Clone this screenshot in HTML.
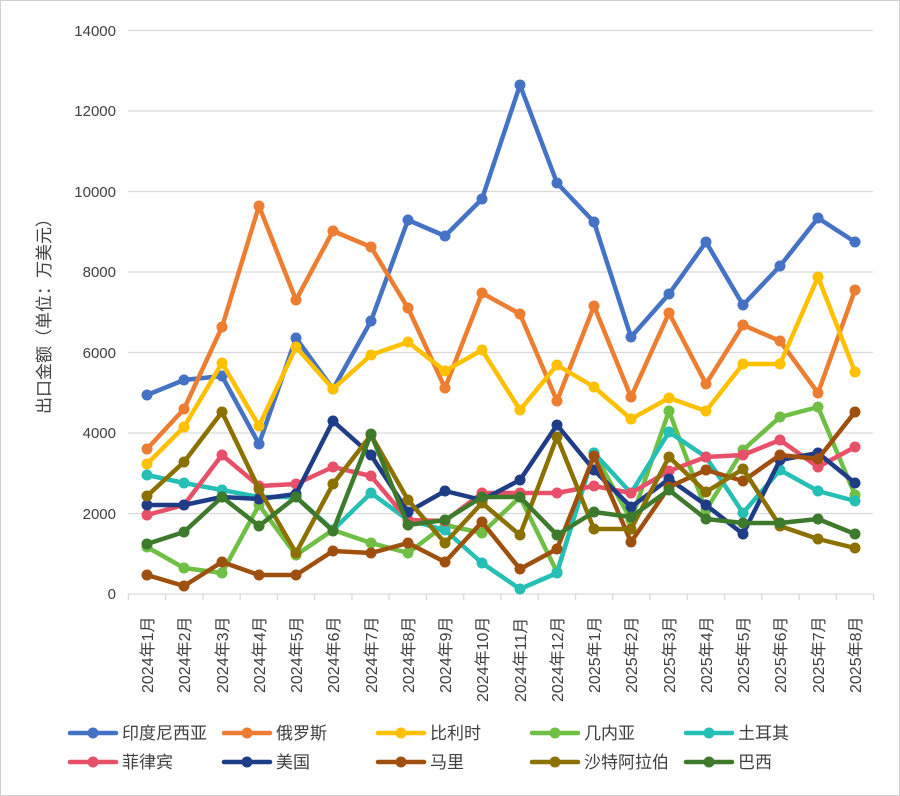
<!DOCTYPE html>
<html><head><meta charset="utf-8"><style>
body{margin:0;background:#fff}
svg{display:block;font-family:"Liberation Sans","Noto Sans CJK SC",sans-serif}
</style></head><body>
<svg id="s" width="900" height="796" viewBox="0 0 900 796">
<rect x="0.5" y="0.5" width="899" height="795" fill="#fff" stroke="#d0d0d0"/>
<g stroke="#d9d9d9" stroke-width="1.3">
<line x1="128" x2="873" y1="30.5" y2="30.5"/><line x1="128" x2="873" y1="111" y2="111"/>
<line x1="128" x2="873" y1="191.5" y2="191.5"/><line x1="128" x2="873" y1="272" y2="272"/>
<line x1="128" x2="873" y1="352.5" y2="352.5"/><line x1="128" x2="873" y1="433" y2="433"/>
<line x1="128" x2="873" y1="513.5" y2="513.5"/><line x1="128" x2="873" y1="594" y2="594"/>
</g>
<g fill="#404040" font-size="15" text-anchor="end">
<text x="116" y="36">14000</text><text x="116" y="116">12000</text><text x="116" y="197">10000</text>
<text x="116" y="277">8000</text><text x="116" y="358">6000</text><text x="116" y="438">4000</text>
<text x="116" y="519">2000</text><text x="116" y="599">0</text>
</g>
<text transform="translate(50,312) rotate(-90)" text-anchor="middle" font-size="17" fill="#404040">出口金额（单位：万美元）</text>
<g id="ticks" stroke="#d9d9d9" stroke-width="1.3"></g>
<g id="xl" fill="#404040" font-size="16">
<text transform="translate(153,693) rotate(-90)">2024年1月</text>
<text transform="translate(190,693) rotate(-90)">2024年2月</text>
<text transform="translate(228,693) rotate(-90)">2024年3月</text>
<text transform="translate(265,693) rotate(-90)">2024年4月</text>
<text transform="translate(302,693) rotate(-90)">2024年5月</text>
<text transform="translate(339,693) rotate(-90)">2024年6月</text>
<text transform="translate(377,693) rotate(-90)">2024年7月</text>
<text transform="translate(414,693) rotate(-90)">2024年8月</text>
<text transform="translate(451,693) rotate(-90)">2024年9月</text>
<text transform="translate(488,702) rotate(-90)">2024年10月</text>
<text transform="translate(526,702) rotate(-90)">2024年11月</text>
<text transform="translate(563,702) rotate(-90)">2024年12月</text>
<text transform="translate(600,693) rotate(-90)">2025年1月</text>
<text transform="translate(637,693) rotate(-90)">2025年2月</text>
<text transform="translate(675,693) rotate(-90)">2025年3月</text>
<text transform="translate(712,693) rotate(-90)">2025年4月</text>
<text transform="translate(749,693) rotate(-90)">2025年5月</text>
<text transform="translate(786,693) rotate(-90)">2025年6月</text>
<text transform="translate(824,693) rotate(-90)">2025年7月</text>
<text transform="translate(861,693) rotate(-90)">2025年8月</text>
</g>
<g id="series"></g>
<g id="leg"></g>
<g fill="#404040" font-size="17">
<text x="122" y="739">印度尼西亚</text><text x="276" y="739">俄罗斯</text><text x="430" y="739">比利时</text><text x="584" y="739">几内亚</text><text x="738" y="739">土耳其</text>
<text x="122" y="768">菲律宾</text><text x="276" y="768">美国</text><text x="430" y="768">马里</text><text x="584" y="768">沙特阿拉伯</text><text x="738" y="768">巴西</text>
</g>
</svg>
<script>
var X=[147,184,222,259,296,333,371,408,445,482,520,557,594,631,669,706,743,780,818,855];
var S=[
["#4472c4",[395,380,376,444,338,389,321,220,236,199,85,183,222,337,294,242,305,266,218,242]],
["#ed7d31",[449,409,327,206,300,231,247,308,388,293,314,401,306,397,313,384,325,341,393,290]],
["#ffc000",[464,427,363,426,347,389,355,342,371,350,410,365,387,419,398,411,364,364,277,372]],
["#6fbf45",[547,568,573,505,555,530,543,553,525,533,497,572,453,520,411,510,450,417,407,495]],
["#26bfb5",[475,483,490,497,497,530,493,520,530,563,589,573,453,493,432,457,513,470,491,501]],
["#e8506a",[515,505,455,486,484,467,476,520,521,493,493,493,486,493,471,457,455,440,467,447]],
["#1f3d87",[505,505,497,499,494,421,455,512,491,500,480,425,470,507,479,505,534,460,453,483]],
["#a0500e",[575,586,562,575,575,551,553,543,562,522,569,549,456,542,487,470,481,455,459,412]],
["#8c7000",[496,462,412,489,553,484,435,500,543,503,535,437,529,529,457,492,469,526,539,548]],
["#3e7a2c",[544,532,497,526,497,531,434,525,520,497,497,535,512,517,490,519,523,523,519,534]]];
var ns="http://www.w3.org/2000/svg";
function el(p,t,a){var e=document.createElementNS(ns,t);for(var k in a)e.setAttribute(k,a[k]);p.appendChild(e);return e}
var tk=document.getElementById('ticks');
for(var i=0;i<=20;i++){var x=128.4+i*37.26;el(tk,'line',{x1:x,x2:x,y1:594,y2:600});}
var g=document.getElementById('series');
S.forEach(function(s){
 el(g,'polyline',{points:X.map(function(x,i){return x+','+s[1][i]}).join(' '),fill:'none',stroke:s[0],'stroke-width':4.5,'stroke-linejoin':'round'});
 X.forEach(function(x,i){el(g,'circle',{cx:x,cy:s[1][i],r:5.5,fill:s[0]})});
});
var L=document.getElementById('leg');
S.forEach(function(s,i){var c=i%5,r=Math.floor(i/5);var x0=70+c*154,y=733+r*29;
 el(L,'line',{x1:x0,x2:x0+46,y1:y,y2:y,stroke:s[0],'stroke-width':4.5,'stroke-linecap':'round'});
 el(L,'circle',{cx:x0+23,cy:y,r:5.5,fill:s[0]});});
</script>
</body></html>
